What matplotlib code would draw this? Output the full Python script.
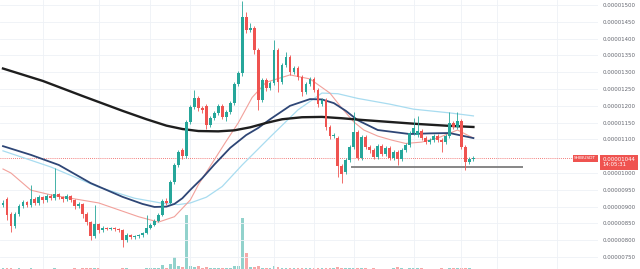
import numpy as np
import matplotlib.pyplot as plt
from matplotlib.transforms import blended_transform_factory

# SHIBUSDT candles, prices in units of 1e-8 USDT
opens = [905, 923, 878, 842, 878, 902, 914, 905, 923, 911,
         929, 920, 932, 926, 938, 929, 923, 932, 920, 902,
         908, 878, 854, 813, 848, 830, 836, 833, 836, 833,
         830, 801, 816, 810, 813, 816, 822, 836, 845, 857,
         875, 917, 911, 974, 1024, 1068, 1051, 1152, 1196, 1223,
         1193, 1200, 1143, 1164, 1179, 1200, 1167, 1182, 1208, 1265,
         1298, 1464, 1426, 1432, 1366, 1217, 1277, 1253, 1268, 1366,
         1271, 1321, 1345, 1301, 1313, 1286, 1241, 1265, 1280, 1247,
         1205, 1217, 1137, 1110, 1104, 1021, 1003, 1039, 1077, 1122,
         1045, 1107, 1077, 1068, 1048, 1080, 1057, 1074, 1045, 1063,
         1042, 1068, 1083, 1119, 1113, 1125, 1104, 1092, 1098, 1110,
         1098, 1092, 1110, 1149, 1137, 1155, 1077, 1033, 1042]
closes = [911, 875, 842, 878, 902, 914, 905, 923, 911, 929,
          920, 932, 926, 938, 929, 923, 932, 920, 902, 908,
          878, 854, 813, 848, 830, 836, 833, 836, 833, 830,
          801, 816, 810, 813, 816, 822, 836, 845, 857, 875,
          917, 911, 974, 1024, 1063, 1051, 1152, 1196, 1223, 1193,
          1188, 1143, 1164, 1179, 1200, 1167, 1182, 1208, 1265, 1298,
          1464, 1426, 1432, 1366, 1217, 1277, 1253, 1268, 1366, 1271,
          1321, 1345, 1301, 1313, 1286, 1241, 1265, 1280, 1247, 1205,
          1217, 1137, 1110, 1113, 1021, 997, 1039, 1077, 1122, 1045,
          1107, 1077, 1068, 1048, 1080, 1057, 1074, 1045, 1063, 1042,
          1068, 1083, 1119, 1134, 1125, 1104, 1092, 1098, 1110, 1098,
          1092, 1110, 1149, 1137, 1155, 1077, 1033, 1042, 1044]
highs = [920, 929, 884, 884, 908, 920, 917, 964, 929, 935,
         932, 938, 938, 1015, 941, 932, 938, 935, 923, 914,
         911, 884, 857, 905, 851, 842, 839, 839, 839, 836,
         833, 822, 819, 816, 819, 825, 875, 851, 863, 881,
         923, 926, 980, 1030, 1069, 1074, 1158, 1202, 1247, 1229,
         1199, 1205, 1170, 1185, 1206, 1205, 1188, 1214, 1271, 1304,
         1512, 1480, 1445, 1438, 1372, 1283, 1283, 1275, 1395, 1372,
         1327, 1360, 1351, 1319, 1319, 1292, 1271, 1286, 1286, 1253,
         1223, 1223, 1143, 1119, 1110, 1027, 1045, 1083, 1182, 1128,
         1113, 1113, 1083, 1074, 1086, 1086, 1080, 1080, 1069, 1069,
         1074, 1089, 1125, 1164, 1170, 1131, 1110, 1104, 1116, 1116,
         1104, 1116, 1182, 1155, 1182, 1161, 1083, 1048, 1050]
lows = [899, 860, 825, 836, 872, 896, 899, 899, 905, 905,
        911, 914, 920, 920, 923, 914, 917, 914, 893, 896,
        866, 845, 801, 807, 822, 825, 830, 830, 827, 825,
        780, 795, 804, 804, 807, 810, 819, 833, 842, 854,
        872, 905, 908, 968, 1018, 1042, 1045, 1146, 1190, 1185,
        1180, 1130, 1137, 1158, 1173, 1160, 1155, 1176, 1202, 1259,
        1290, 1418, 1420, 1355, 1188, 1210, 1245, 1247, 1262, 1241,
        1265, 1315, 1292, 1295, 1278, 1230, 1235, 1259, 1240, 1197,
        1199, 1128, 1101, 1104, 989, 970, 997, 1033, 1071, 1039,
        1039, 1071, 1060, 1042, 1042, 1051, 1051, 1039, 1039, 1024,
        1036, 1062, 1077, 1113, 1107, 1098, 1086, 1086, 1092, 1092,
        1063, 1086, 1104, 1131, 1131, 1071, 1009, 1027, 1036]
volumes = [0.6, 0.5, 0.7, 0.4, 0.5, 0.3, 0.4, 0.5, 0.3, 0.4,
           0.3, 0.4, 0.3, 0.6, 0.3, 0.4, 0.3, 0.3, 0.5, 0.4,
           0.5, 0.6, 0.8, 0.7, 0.5, 0.4, 0.3, 0.3, 0.3, 0.3,
           0.8, 0.5, 0.4, 0.3, 0.3, 0.4, 0.6, 0.5, 0.6, 0.8,
           4.0, 1.2, 4.5, 11.0, 2.5, 1.5, 50.0, 3.0, 2.0, 2.5,
           1.2, 1.5, 1.0, 0.8, 0.9, 1.0, 0.8, 1.2, 3.0, 2.5,
           47.0, 15.0, 2.0, 2.0, 2.5, 1.2, 1.0, 0.8, 2.5, 1.8,
           0.8, 1.0, 0.7, 0.5, 0.6, 0.8, 0.6, 0.5, 0.6, 0.7,
           0.5, 0.8, 0.7, 0.5, 1.5, 1.2, 0.6, 0.5, 0.8, 0.7,
           0.6, 0.5, 0.4, 0.5, 0.4, 0.4, 0.3, 0.4, 0.5, 1.4,
           0.5, 0.4, 0.5, 0.6, 1.2, 0.5, 0.4, 0.3, 0.3, 0.4,
           0.5, 0.4, 0.7, 0.5, 0.6, 0.8, 1.3, 0.5, 0.4]

# moving averages (candle index, price)
ma_black_idx = [0, 10, 20, 30, 36, 41, 45, 49, 54, 58, 62, 66, 70, 75, 80, 85, 90, 97, 104, 111, 118]
ma_black = [1311, 1274, 1229, 1185, 1160, 1141, 1131, 1125, 1124, 1127, 1136, 1149,
            1160, 1166, 1167, 1163, 1158, 1152, 1146, 1141, 1137]
ma_navy_idx = [0, 7, 14, 22, 30, 35, 38, 41, 43, 45, 47, 50, 53, 57, 61, 64, 67, 72, 77,
               80, 83, 86, 89, 94, 102, 107, 112, 118]
ma_navy = [1080, 1054, 1024, 970, 929, 908, 899, 900, 908, 925, 950, 985, 1025, 1075,
           1113, 1134, 1160, 1200, 1220, 1219, 1208, 1185, 1157, 1128, 1116, 1118, 1119, 1104]
ma_light_idx = [0, 12, 24, 33, 40, 44, 47, 51, 55, 60, 67, 74, 80, 84, 89, 97, 103, 112, 118]
ma_light = [1066, 1018, 958, 925, 910, 906, 911, 928, 960, 1024, 1107, 1188, 1238,
            1236, 1222, 1205, 1190, 1179, 1170]
ma_red_idx = [0, 2, 7, 12, 24, 34, 39, 43, 47, 49, 52.5, 56, 59, 62.5, 66, 72, 77, 82,
              85, 88, 90.5, 94, 97.5, 101, 105, 109, 114, 118]
ma_red = [1012, 1000, 949, 935, 911, 870, 854, 870, 920, 965, 1030, 1095, 1149, 1225,
          1270, 1292, 1280, 1238, 1193, 1152, 1128, 1110, 1098, 1088, 1092, 1104, 1128, 1104]

price_ticks = [750, 800, 850, 900, 950, 1000, 1100, 1150, 1200, 1250, 1300, 1350, 1400, 1450, 1500]
time_ticks = [10, 24, 37, 47, 59, 68, 78, 88, 103, 115, 124, 139]
last_price = 1044
support_level = 1018
support_start, support_end = 87.25, 130.5

green = '#26a69a'
red = '#ef5350'

fig = plt.figure(figsize=(6.4, 2.69), dpi=100)
fig.patch.set_facecolor('white')
plot_w = 598 / 640

# volume pane underneath
vax = fig.add_axes([0, 0, plot_w, 0.4])
ax = fig.add_axes([0, 0, plot_w, 1], sharex=vax)
ax.patch.set_alpha(0)

x = np.arange(len(closes))
o = np.array(opens, float)
c = np.array(closes, float)
up = c >= o
cols = np.where(up, green, red)

vax.bar(x, volumes, width=0.7, color=cols, alpha=0.5, linewidth=0)
vax.set_ylim(0, 100)
vax.axis('off')

# candles
ax.vlines(x, lows, highs, colors=cols, linewidth=0.6, zorder=3)
body = np.maximum(np.abs(c - o), 2.5)
ax.bar(x, body, bottom=np.minimum(o, c), width=0.7, color=cols, linewidth=0, zorder=4)

ax.plot(ma_light_idx, ma_light, color='#a8dcf0', lw=0.9, zorder=2)
ax.plot(ma_red_idx, ma_red, color='#f2a19b', lw=0.8, zorder=2)
ax.plot(ma_navy_idx, ma_navy, color='#2e4676', lw=1.3, zorder=2)
ax.plot(ma_black_idx, ma_black, color='#1e1e1e', lw=1.7, zorder=2)

ax.hlines(support_level, support_start, support_end, color='#7d7d7d', lw=1.3, zorder=2)
ax.axhline(last_price, color=red, lw=0.6, ls=(0, (1, 1.5)), zorder=1)

ax.set_xlim(-0.75, 149.25)
ax.set_ylim(714.4, 1514.9)
ax.set_yticks(price_ticks)
ax.set_yticklabels([f'{p * 1e-8:.8f}' for p in price_ticks])
ax.set_xticks(time_ticks)
ax.yaxis.tick_right()
ax.tick_params(axis='y', length=0, pad=3.5, labelsize=3.9, labelcolor='#62656e')
ax.tick_params(axis='x', length=0, labelbottom=False)
ax.grid(True, color='#eef1f6', lw=0.6)
ax.set_axisbelow(True)
for s in ax.spines.values():
    s.set_visible(False)

tr = blended_transform_factory(ax.transAxes, ax.transData)
ax.text(0.997, last_price, 'SHIBUSDT', transform=tr, ha='right', va='center',
        fontsize=3.2, color='white', zorder=6,
        bbox=dict(boxstyle='square,pad=0.35', fc=red, ec='none'))
ax.annotate('0.00001044\n14:05:31', xy=(1, last_price), xycoords=tr,
            xytext=(3.2, -3), textcoords='offset points', ha='left', va='center',
            fontsize=3.9, color='white', linespacing=1.0, annotation_clip=False, zorder=6,
            bbox=dict(boxstyle='square,pad=0.45', fc=red, ec='none'))

fig.savefig('out.png', dpi=100, facecolor='white')
